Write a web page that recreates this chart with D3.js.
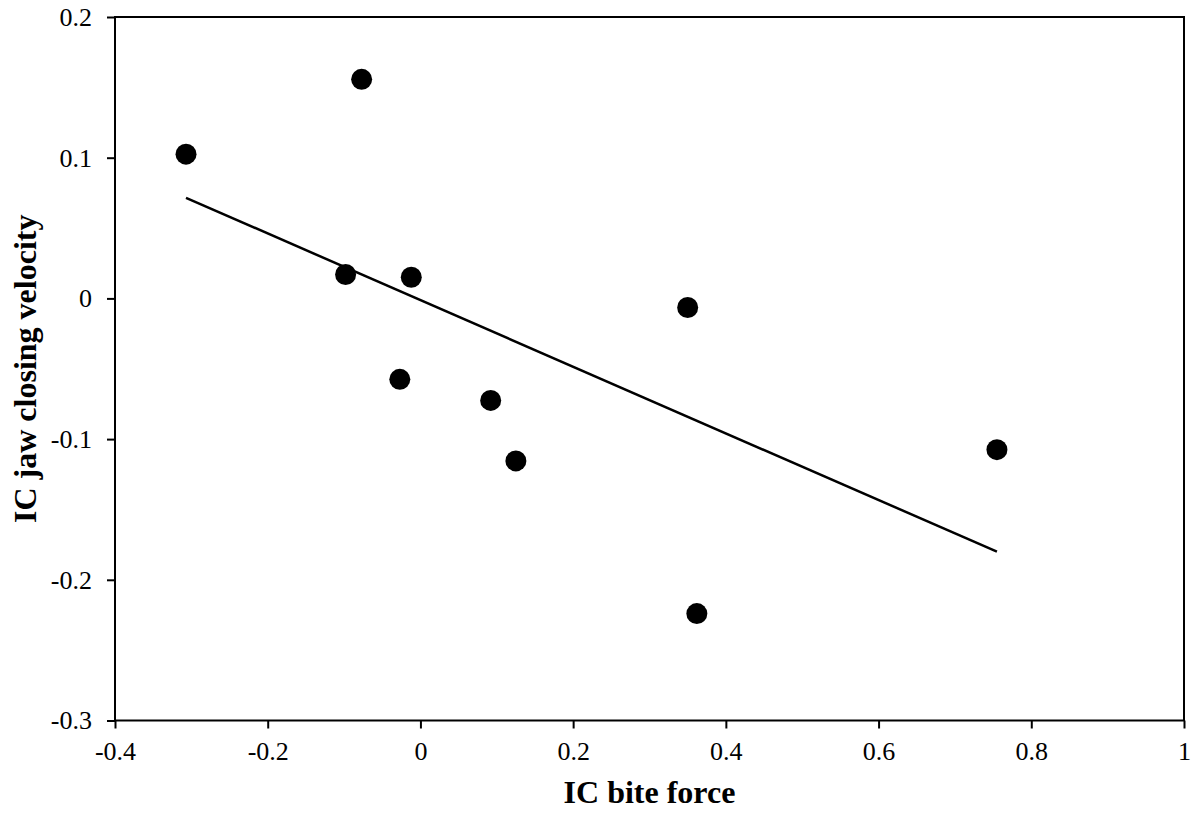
<!DOCTYPE html>
<html>
<head>
<meta charset="utf-8">
<script src="https://cdn.jsdelivr.net/npm/d3@7"></script>
<style>
body { margin: 0; background: #fff; }
text { font-family: "Liberation Serif", "Times New Roman", serif; fill: #000; }
</style>
</head>
<body>
<div class="chart"></div>
<script>
var width = 1191,
    height = 813;

// IC bite force vs IC jaw closing velocity
var biteForce = [-0.307, -0.077, -0.098, -0.012, -0.027, 0.092, 0.125, 0.350, 0.362, 0.755];
var jawVelocity = [0.1025, 0.1557, 0.0170, 0.0150, -0.0575, -0.0725, -0.1155, -0.0065, -0.2240, -0.1075];

// trend line end points
var trendX = [-0.307, 0.755];
var trendY = [0.0715, -0.180];

var xTicks = [-0.4, -0.2, 0, 0.2, 0.4, 0.6, 0.8, 1];
var yTicks = [-0.3, -0.2, -0.1, 0, 0.1, 0.2];

var margin = {top: 17, right: 7, bottom: 92.5, left: 115};

var x = d3.scaleLinear()
    .domain([-0.4, 1])
    .range([margin.left, width - margin.right]);

var y = d3.scaleLinear()
    .domain([-0.3, 0.2])
    .range([height - margin.bottom, margin.top]);

var fmt = function(d) { return String(+d.toFixed(1)); };

var svg = d3.select(".chart").append("svg")
    .attr("width", width)
    .attr("height", height);

// frame
svg.append("rect")
    .attr("x", x(-0.4))
    .attr("y", y(0.2))
    .attr("width", x(1) - x(-0.4))
    .attr("height", y(-0.3) - y(0.2))
    .attr("fill", "none")
    .attr("stroke", "#000")
    .attr("stroke-width", 2);

var xAxis = svg.append("g")
    .attr("transform", "translate(0," + y(-0.3) + ")")
    .call(d3.axisBottom(x).tickValues(xTicks).tickSize(8).tickPadding(13.5).tickFormat(fmt));

var yAxis = svg.append("g")
    .attr("transform", "translate(" + x(-0.4) + ",0)")
    .call(d3.axisLeft(y).tickValues(yTicks).tickSize(8).tickPadding(15).tickFormat(fmt));

svg.selectAll(".domain").remove();
svg.selectAll(".tick line").attr("stroke", "#000").attr("stroke-width", 2);
svg.selectAll(".tick text")
    .attr("font-family", null)
    .attr("font-size", null)
    .style("font-family", "'Liberation Serif', 'Times New Roman', serif")
    .style("font-size", "26px")
    .attr("fill", "#000");

// trend line
svg.append("line")
    .attr("x1", x(trendX[0]))
    .attr("y1", y(trendY[0]))
    .attr("x2", x(trendX[1]))
    .attr("y2", y(trendY[1]))
    .attr("stroke", "#000")
    .attr("stroke-width", 2.5);

// points
svg.selectAll(".pt")
    .data(biteForce)
    .enter()
    .append("circle")
    .attr("class", "pt")
    .attr("cx", function(d) { return x(d); })
    .attr("cy", function(d, i) { return y(jawVelocity[i]); })
    .attr("r", 10.5)
    .attr("fill", "#000");

// axis titles
svg.append("text")
    .attr("x", (x(-0.4) + x(1)) / 2)
    .attr("y", 803)
    .attr("text-anchor", "middle")
    .style("font-size", "32px")
    .style("font-weight", "bold")
    .text("IC bite force");

svg.append("text")
    .attr("transform", "translate(35.5," + (y(0.2) + y(-0.3)) / 2 + ") rotate(-90)")
    .attr("text-anchor", "middle")
    .style("font-size", "32px")
    .style("font-weight", "bold")
    .text("IC jaw closing velocity");
</script>
</body>
</html>
